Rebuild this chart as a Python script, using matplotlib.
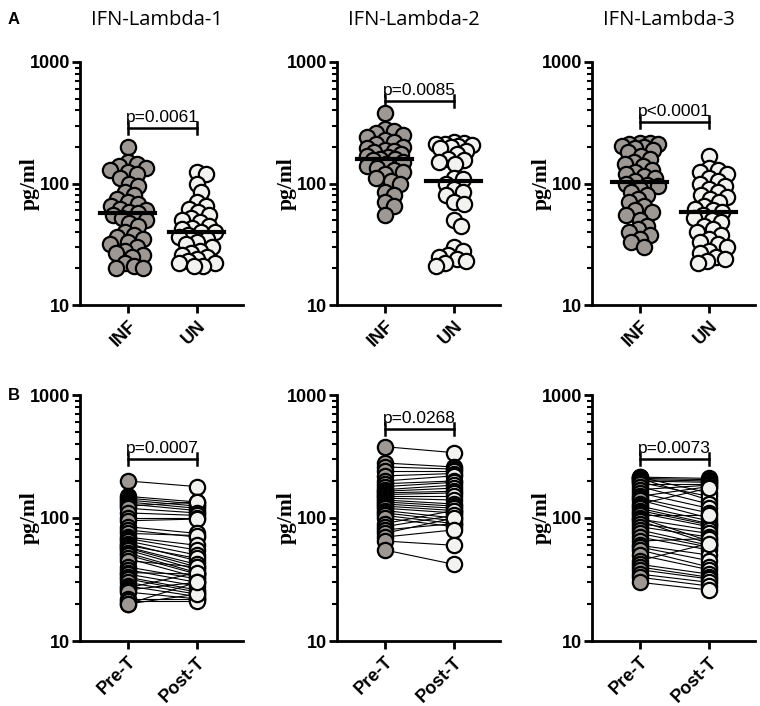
import numpy as np
import matplotlib
matplotlib.use('Agg')
import matplotlib.pyplot as plt
from matplotlib.ticker import LogLocator, NullFormatter

# IFN-lambda levels (pg/ml)
inf_l1 = [200, 150, 145, 140, 135, 130, 125, 120, 110, 100, 95, 85, 80, 75, 70, 68,
          65, 62, 60, 58, 57, 55, 52, 50, 47, 45, 40, 38, 36, 35, 33, 32, 30, 28,
          27, 26, 25, 22, 21, 20, 20]
un_l1 = [125, 120, 100, 85, 70, 65, 62, 58, 55, 52, 50, 48, 45, 43, 42, 40, 40, 38,
         36, 35, 33, 32, 30, 28, 27, 26, 25, 24, 23, 22, 22, 21, 21]

inf_l2 = [380, 280, 270, 260, 250, 240, 230, 220, 210, 200, 195, 190, 185, 180, 175,
          170, 165, 160, 158, 155, 150, 145, 140, 135, 130, 125, 120, 110, 105, 100,
          85, 80, 70, 65, 55]
un_l2 = [220, 215, 212, 210, 208, 205, 200, 195, 185, 175, 160, 155, 150, 145, 112,
         108, 100, 90, 85, 80, 70, 68, 50, 45, 30, 28, 26, 25, 24, 23, 22, 21]

inf_l3 = [215, 215, 210, 210, 205, 200, 195, 190, 180, 170, 160, 150, 145, 140, 130,
          125, 120, 115, 110, 105, 100, 98, 95, 90, 85, 80, 75, 70, 65, 60, 58, 55,
          50, 45, 42, 40, 38, 35, 33, 30]
un_l3 = [170, 135, 130, 125, 120, 110, 105, 100, 95, 90, 85, 80, 78, 75, 70, 65, 62,
         60, 58, 55, 52, 50, 48, 45, 42, 40, 38, 35, 33, 32, 30, 28, 27, 25, 24, 23, 22]

# paired pre/post treatment
pre_l1 = [200, 150, 145, 140, 135, 130, 125, 120, 110, 100, 95, 85, 80, 75, 70, 68,
          65, 62, 60, 58, 57, 55, 52, 50, 47, 45, 40, 38, 36, 35, 33, 32, 30, 28,
          27, 26, 25, 22, 21, 20, 20]
post_l1 = [180, 135, 130, 125, 120, 115, 135, 110, 105, 100, 98, 75, 70, 72, 60, 55,
           50, 45, 47, 42, 40, 38, 36, 35, 33, 40, 32, 30, 35, 28, 26, 25, 24, 23, 36,
           30, 22, 22, 21, 24, 30]

pre_l2 = [380, 280, 260, 240, 220, 200, 190, 180, 170, 165, 160, 155, 150, 145, 140,
          135, 130, 125, 120, 115, 110, 105, 100, 90, 85, 80, 75, 70, 65, 55]
post_l2 = [340, 260, 250, 240, 230, 220, 200, 195, 185, 175, 165, 160, 150, 140, 130,
           125, 120, 115, 110, 100, 95, 90, 85, 115, 105, 90, 100, 80, 60, 42]

pre_l3 = [215, 215, 210, 210, 205, 200, 195, 190, 180, 170, 160, 150, 145, 140, 130,
          125, 120, 115, 110, 105, 100, 98, 95, 90, 85, 80, 75, 70, 65, 60, 58, 55,
          50, 45, 42, 40, 38, 35, 33, 30]
post_l3 = [210, 160, 205, 140, 200, 195, 150, 190, 130, 185, 120, 180, 110, 100, 175,
           95, 90, 88, 85, 105, 65, 80, 62, 75, 70, 60, 58, 55, 68, 50, 45, 40, 38,
           62, 35, 33, 32, 30, 28, 26]

titles = ['IFN-Lambda-1', 'IFN-Lambda-2', 'IFN-Lambda-3']
top_labels = ['INF', 'UN']
bottom_labels = ['Pre-T', 'Post-T']
p_top = ['p=0.0061', 'p=0.0085', 'p<0.0001']
p_bottom = ['p=0.0007', 'p=0.0268', 'p=0.0073']
bracket_top = [285, 480, 320]
bracket_bottom = [300, 530, 300]

GRAY = '#9e9894'
WHITE = '#f2f2f0'
MS = 11  # marker diameter in points
SANS = ['Liberation Sans', 'DejaVu Sans']


def style_axis(ax, labels):
    ax.set_yscale('log')
    ax.set_ylim(10, 1000)
    ax.set_xlim(-0.69, 1.67)
    for s in ['top', 'right']:
        ax.spines[s].set_visible(False)
    for s in ['left', 'bottom']:
        ax.spines[s].set_linewidth(2.0)
    ax.set_yticks([10, 100, 1000])
    ax.set_yticklabels(['10', '100', '1000'], fontsize=13, fontweight='bold',
                       family=SANS)
    ax.yaxis.set_minor_locator(LogLocator(base=10, subs=np.arange(2, 10)))
    ax.yaxis.set_minor_formatter(NullFormatter())
    ax.tick_params(axis='y', which='major', length=6, width=2, pad=1)
    ax.tick_params(axis='y', which='minor', length=3.5, width=1.5)
    ax.set_xticks([0, 1])
    ax.set_xticklabels(labels, rotation=45, ha='right', rotation_mode='anchor',
                       fontsize=13, fontweight='bold', family=SANS)
    ax.tick_params(axis='x', length=6, width=2, pad=3)
    ax.set_ylabel('pg/ml', fontsize=15.5, fontweight='bold',
                  family=['Liberation Serif', 'DejaVu Serif'])
    ax.yaxis.set_label_coords(-0.25, 0.5)


def swarm(ax, vals, xc, diam_px, max_px=19):
    vals = np.asarray(vals, dtype=float)
    pts = ax.transData.transform(np.column_stack([np.full(len(vals), xc), vals]))
    ypx = pts[:, 1]
    x0 = ax.transData.transform((0, 10))[0]
    x1 = ax.transData.transform((1, 10))[0]
    px_per_unit = x1 - x0
    cands = [0.0]
    step = 1.5
    k = 1
    while k * step <= max_px:
        cands += [k * step, -k * step]
        k += 1
    placed = []
    offs = np.zeros(len(vals))
    for i in np.argsort(-vals):
        best, best_d = 0.0, -1
        for c in cands:
            d = min([np.hypot(c - px, ypx[i] - py) for px, py in placed] or [1e9])
            if d >= diam_px * 0.6:
                best = c
                break
            if d > best_d:
                best, best_d = c, d
        offs[i] = best
        placed.append((best, ypx[i]))
    return xc + offs / px_per_unit


def bracket(ax, y, text):
    f = 10 ** 0.05
    ax.plot([0, 1], [y, y], color='black', lw=1.8)
    ax.plot([0, 0], [y / f, y * f], color='black', lw=1.8)
    ax.plot([1, 1], [y / f, y * f], color='black', lw=1.8)
    ax.text(0.5, y * 10 ** 0.025, text, ha='center', va='bottom', fontsize=12.5,
            family=SANS)


fig = plt.figure(figsize=(7.6, 7.06), dpi=100)
W, H = 760, 706
lefts = [80, 337, 592]
aw = 163
top_row = [fig.add_axes([l / W, 1 - 305 / H, aw / W, 243 / H]) for l in lefts]
bot_row = [fig.add_axes([l / W, 1 - 641 / H, aw / W, 246 / H]) for l in lefts]

diam_px = MS * 100 / 72

groups = [(inf_l1, un_l1), (inf_l2, un_l2), (inf_l3, un_l3)]
for ax, (a, b), title, p, yb in zip(top_row, groups, titles, p_top, bracket_top):
    style_axis(ax, top_labels)
    for vals, xc, col in [(a, 0, GRAY), (b, 1, WHITE)]:
        xs = swarm(ax, vals, xc, diam_px)
        ax.scatter(xs, vals, s=MS ** 2, facecolor=col, edgecolor='black',
                   linewidth=1.6, zorder=3)
        med = np.median(vals)
        ax.plot([xc - 0.4, xc + 0.4], [med, med], color='black', lw=3, zorder=4)
    bracket(ax, yb, p)
    ax.text(0.47, 1 + 42 / 243, title, transform=ax.transAxes, ha='center',
            va='center', fontsize=14.5, family=['Open Sans', 'DejaVu Sans'])

pairs = [(pre_l1, post_l1), (pre_l2, post_l2), (pre_l3, post_l3)]
for ax, (a, b), p, yb in zip(bot_row, pairs, p_bottom, bracket_bottom):
    style_axis(ax, bottom_labels)
    for y0, y1 in zip(a, b):
        ax.plot([0, 1], [y0, y1], color='black', lw=0.8, zorder=2)
    ax.scatter(np.zeros(len(a)), a, s=MS ** 2, facecolor=GRAY, edgecolor='black',
               linewidth=1.6, zorder=3)
    ax.scatter(np.ones(len(b)), b, s=MS ** 2, facecolor=WHITE, edgecolor='black',
               linewidth=1.6, zorder=3)
    bracket(ax, yb, p)

fig.text(8 / W, 1 - 20 / H, 'A', fontsize=12, fontweight='bold', va='center',
         family=SANS)
fig.text(8 / W, 1 - 396 / H, 'B', fontsize=12, fontweight='bold', va='center',
         family=SANS)

fig.savefig('out.png', dpi=100)
